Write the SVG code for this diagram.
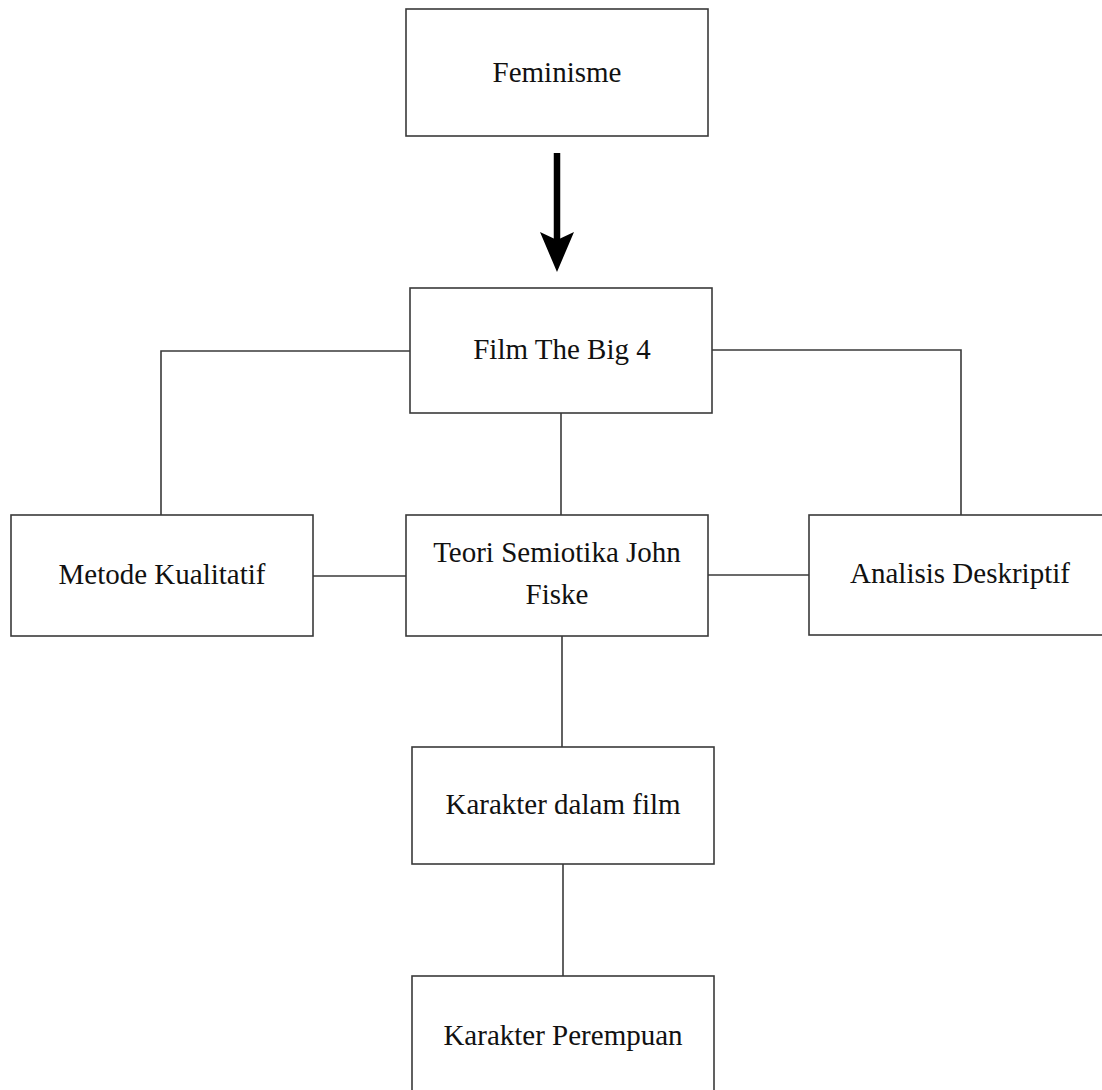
<svg xmlns="http://www.w3.org/2000/svg" width="1102" height="1090" viewBox="0 0 1102 1090">
<style>
.box{fill:#fff;stroke:#3a3a3a;stroke-width:1.6}
.lbl{font-family:"Liberation Serif","Times New Roman",serif;font-size:29px;fill:#111;text-anchor:middle}
.conn{fill:none;stroke:#3a3a3a;stroke-width:1.6}
</style>
<rect width="1102" height="1090" fill="#fff"/>
<g id="connectors">
<polyline class="conn" points="410,351 161,351 161,515"/>
<polyline class="conn" points="712,350 961,350 961,515"/>
<line class="conn" x1="561" y1="413" x2="561" y2="515"/>
<line class="conn" x1="313" y1="576" x2="406" y2="576"/>
<line class="conn" x1="708" y1="575" x2="809" y2="575"/>
<line class="conn" x1="562" y1="636" x2="562" y2="747"/>
<line class="conn" x1="563" y1="864" x2="563" y2="976"/>
<line x1="557" y1="153" x2="557" y2="240" stroke="#000" stroke-width="6.5"/>
<polygon points="540,232 557,240 574,232 557,272" fill="#000"/>
</g>
<g id="feminisme">
<rect class="box" x="406" y="9" width="302" height="127"/>
<text class="lbl" x="557" y="82">Feminisme</text>
</g>
<g id="film">
<rect class="box" x="410" y="288" width="302" height="125"/>
<text class="lbl" x="562" y="359">Film The Big 4</text>
</g>
<g id="metode">
<rect class="box" x="11" y="515" width="302" height="121"/>
<text class="lbl" x="162" y="584">Metode Kualitatif</text>
</g>
<g id="teori">
<rect class="box" x="406" y="515" width="302" height="121"/>
<text class="lbl" x="557" y="562">Teori Semiotika John</text>
<text class="lbl" x="557" y="604">Fiske</text>
</g>
<g id="analisis">
<rect class="box" x="809" y="515" width="300" height="120"/>
<text class="lbl" x="960" y="583">Analisis Deskriptif</text>
</g>
<g id="karakter-film">
<rect class="box" x="412" y="747" width="302" height="117"/>
<text class="lbl" x="563" y="814">Karakter dalam film</text>
</g>
<g id="karakter-perempuan">
<rect class="box" x="412" y="976" width="302" height="130"/>
<text class="lbl" x="563" y="1045">Karakter Perempuan</text>
</g>
</svg>
